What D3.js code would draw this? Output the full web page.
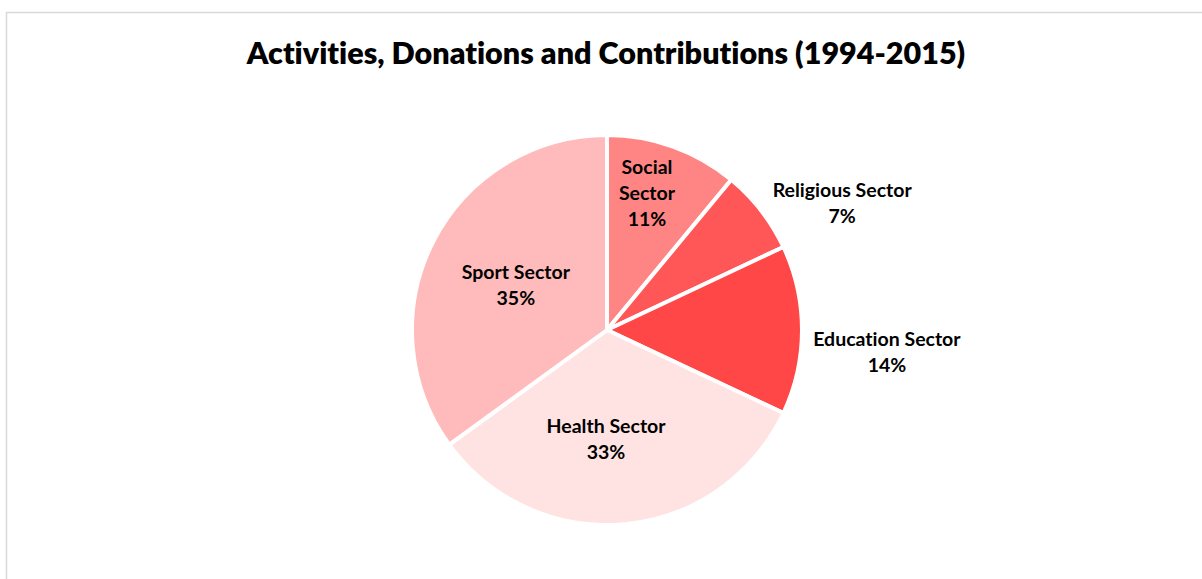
<!DOCTYPE html>
<html>
<head>
<meta charset="utf-8">
<script src="https://cdn.jsdelivr.net/npm/d3@7"></script>
<style>
  body { margin: 0; background: #fff; }
  svg { display: block; font-family: Lato, "Open Sans", sans-serif; font-variant-ligatures: none; }
</style>
</head>
<body>
<svg id="chart"></svg>
<script>
const width = 1202, height = 579;
const cx = 607, cy = 330, radius = 195;

const title = "Activities, Donations and Contributions (1994-2015)";
const sectors = ["Social Sector", "Religious Sector", "Education Sector", "Health Sector", "Sport Sector"];
const shares = [11, 7, 14, 33, 35];
const colors = ["#ff8585", "#ff5757", "#ff4747", "#ffe3e3", "#ffbbbb"];

// label placement: [distance from centre as fraction of radius, angle in degrees from 12 o'clock]
const labelPolar = [[0.73, 16.3], [1.37, 61.7], [1.44, 94.5], [0.56, 180.5], [0.52, 296]];
// Social label wraps onto two lines like the original
const labelLines = [["Social", "Sector"], ["Religious Sector"], ["Education Sector"], ["Health Sector"], ["Sport Sector"]];

const svg = d3.select("#chart")
    .attr("width", width)
    .attr("height", height)
    .attr("viewBox", [0, 0, width, height]);

// chart frame
svg.append("rect")
    .attr("x", 6.5)
    .attr("y", 12.5)
    .attr("width", width + 20)
    .attr("height", height + 20)
    .attr("fill", "#fff")
    .attr("stroke", "#d9d9d9")
    .attr("stroke-width", 1.5);

svg.append("text")
    .attr("x", 606)
    .attr("y", 64)
    .attr("text-anchor", "middle")
    .attr("font-size", 30.5)
    .attr("font-weight", 800)
    .attr("fill", "#000")
    .text(title);

const data = sectors.map((name, i) => ({name, value: shares[i], color: colors[i], i}));

const pie = d3.pie()
    .value(d => d.value)
    .sort(null);

const arc = d3.arc()
    .innerRadius(0)
    .outerRadius(radius);

const g = svg.append("g")
    .attr("transform", `translate(${cx},${cy})`);

const arcs = pie(data);

g.selectAll("path.slice")
    .data(arcs)
    .join("path")
    .attr("class", "slice")
    .attr("d", arc)
    .attr("fill", d => d.data.color)
    .attr("stroke", "#fff")
    .attr("stroke-width", 4)
    .attr("stroke-linejoin", "round");

const lineH = 26;

g.selectAll("text.label")
    .data(arcs)
    .join("text")
    .attr("class", "label")
    .attr("text-anchor", "middle")
    .attr("font-size", 19.5)
    .attr("font-weight", 700)
    .attr("fill", "#000")
    .each(function (d) {
        const i = d.data.i;
        const [f, deg] = labelPolar[i];
        const a = deg * Math.PI / 180;
        const x = Math.sin(a) * radius * f;
        const y = -Math.cos(a) * radius * f;
        const lines = labelLines[i].concat([`${d3.format(".0%")(d.value / d3.sum(shares))}`]);
        const top = y - (lines.length - 1) * lineH / 2;
        const t = d3.select(this);
        lines.forEach((ln, k) => {
            t.append("tspan")
                .attr("x", x)
                .attr("y", top + k * lineH)
                .attr("dy", "0.35em")
                .text(ln);
        });
    });
</script>
</body>
</html>
